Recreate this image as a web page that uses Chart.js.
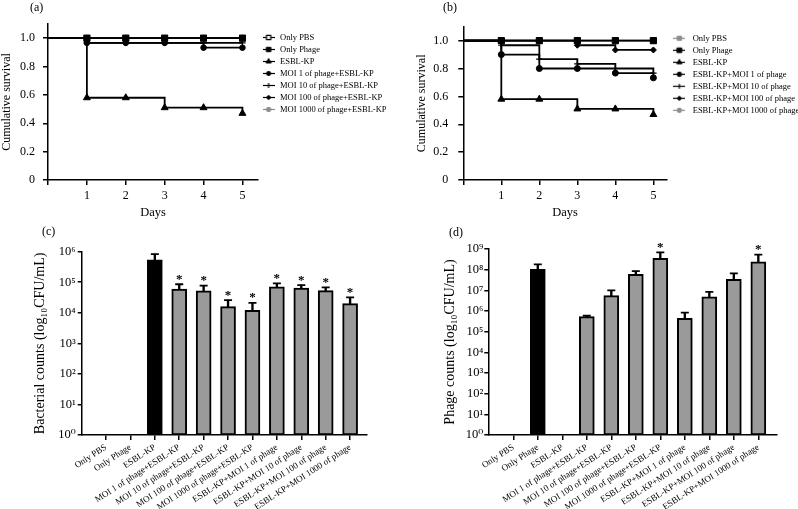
<!DOCTYPE html>
<html>
<head>
<meta charset="utf-8">
<title>Survival and bacterial / phage counts</title>
<script src="https://cdn.jsdelivr.net/npm/chart.js@4.4.1/dist/chart.umd.min.js"></script>
<style>
  html, body { margin:0; padding:0; background:#ffffff; }
  #fig { position:relative; width:798px; height:509px; overflow:hidden; background:#ffffff; }
  #fig canvas { position:absolute; }
  .plab { position:absolute; font-family:"Liberation Serif","Times New Roman",serif; font-size:12px; line-height:1; color:#000; }
</style>
</head>
<body>
<div id="fig">
  <canvas id="cA" width="400" height="235" style="left:0px;top:0px"></canvas>
  <canvas id="cB" width="398" height="235" style="left:400px;top:0px"></canvas>
  <canvas id="cC" width="400" height="269" style="left:0px;top:240px"></canvas>
  <canvas id="cD" width="398" height="269" style="left:400px;top:240px"></canvas>
  <div class="plab" style="left:30px;top:1px">(a)</div>
  <div class="plab" style="left:443px;top:1px">(b)</div>
  <div class="plab" style="left:42px;top:225px">(c)</div>
  <div class="plab" style="left:449px;top:226px">(d)</div>
</div>
<script>
const SERIF = '"Liberation Serif","Times New Roman","DejaVu Serif",serif';
Chart.defaults.font.family = SERIF;
Chart.defaults.color = '#000';

// ---------------- survival data ----------------
const days = [0, 1, 2, 3, 4, 5];
const dayTickValues = [0, 1, 2, 3, 4, 5];
const survivalTickValues = [0, 0.2, 0.4, 0.6, 0.8, 1.0];

const groupsA = ['Only PBS', 'Only Phage', 'ESBL-KP', 'MOI 1 of phage+ESBL-KP',
  'MOI 10 of phage+ESBL-KP', 'MOI 100 of phage+ESBL-KP', 'MOI 1000 of phage+ESBL-KP'];
const survA_PBS     = [1, 1, 1, 1, 1, 1];
const survA_Phage   = [1, 1, 1, 1, 1, 1];
const survA_ESBL    = [1, 0.58, 0.58, 0.51, 0.51, 0.47];
const survA_MOI1    = [1, 0.967, 0.967, 0.967, 0.933, 0.933];
const survA_MOI10   = [1, 0.967, 0.967, 0.967, 0.967, 0.967];
const survA_MOI100  = [1, 1, 1, 1, 1, 1];
const survA_MOI1000 = [1, 1, 1, 1, 1, 1];

const groupsB = ['Only PBS', 'Only Phage', 'ESBL-KP', 'ESBL-KP+MOI 1 of phage',
  'ESBL-KP+MOI 10 of phage', 'ESBL-KP+MOI 100 of phage', 'ESBL-KP+MOI 1000 of phage'];
const survB_PBS     = [1, 1, 1, 1, 1, 1];
const survB_Phage   = [1, 1, 1, 1, 1, 1];
const survB_ESBL    = [1, 0.58, 0.58, 0.51, 0.51, 0.47];
const survB_MOI1    = [1, 0.9, 0.8, 0.8, 0.767, 0.733];
const survB_MOI10   = [1, 0.967, 0.867, 0.833, 0.8, 0.767];
const survB_MOI100  = [1, 1, 1, 0.967, 0.933, 0.933];
const survB_MOI1000 = [1, 1, 1, 1, 1, 1];

// ---------------- count data ----------------
const barCategories = ['Only PBS', 'Only Phage', 'ESBL-KP', 'MOI 1 of phage+ESBL-KP',
  'MOI 10 of phage+ESBL-KP', 'MOI 100 of phage+ESBL-KP', 'MOI 1000 of phage+ESBL-KP',
  'ESBL-KP+MOI 1 of phage', 'ESBL-KP+MOI 10 of phage', 'ESBL-KP+MOI 100 of phage',
  'ESBL-KP+MOI 1000 of phage'];
const bacteriaMean  = [null, null, 5.4e5, 6.0e4, 5.2e4, 1.6e4, 1.2e4, 7.1e4, 6.4e4, 5.3e4, 2.0e4];
const bacteriaUpper = [null, null, 8.3e5, 8.6e4, 7.7e4, 2.6e4, 2.1e4, 9.2e4, 8.1e4, 6.8e4, 3.2e4];
const bacteriaSig   = [false, false, false, true, true, true, true, true, true, true, true];
const phageMean  = [null, 1.05e8, null, 5.3e5, 5.5e6, 5.9e7, 3.5e8, 4.4e5, 4.9e6, 3.4e7, 2.4e8];
const phageUpper = [null, 1.8e8, null, 5.9e5, 1.0e7, 8.5e7, 6.9e8, 8.3e5, 8.5e6, 6.6e7, 5.3e8];
const phageSig   = [false, false, false, false, false, false, true, false, false, false, true];
const bacteriaTicks = [1, 1e1, 1e2, 1e3, 1e4, 1e5, 1e6];
const phageTicks = [1, 1e1, 1e2, 1e3, 1e4, 1e5, 1e6, 1e7, 1e8, 1e9];

// ---------------- styles ----------------
const GREY = '#8c8c8c';
const stylesA = [
  {ps: 'rect', r: 4, fill: '#ffffff', line: '#000', bw: 1.2},
  {ps: 'rect', r: 4.2, fill: '#000', line: '#000', bw: 1},
  {ps: 'triangle', r: 4, fill: '#000', line: '#000', bw: 1},
  {ps: 'circle', r: 2.8, fill: '#000', line: '#000', bw: 1},
  {ps: 'cross', r: 3.2, fill: '#000', line: '#000', bw: 1.2},
  {ps: 'rectRot', r: 3, fill: '#000', line: '#000', bw: 1},
  {ps: 'circle', r: 3, fill: GREY, line: GREY, bw: 1}
];
const stylesB = [
  {ps: 'rect', r: 4, fill: GREY, line: GREY, bw: 1},
  {ps: 'rect', r: 4.4, fill: '#000', line: '#000', bw: 1},
  {ps: 'triangle', r: 4, fill: '#000', line: '#000', bw: 1},
  {ps: 'circle', r: 3, fill: '#000', line: '#000', bw: 1},
  {ps: 'cross', r: 3.2, fill: '#000', line: '#000', bw: 1.2},
  {ps: 'rectRot', r: 3, fill: '#000', line: '#000', bw: 1},
  {ps: 'circle', r: 3, fill: GREY, line: GREY, bw: 1}
];
const drawOrder = [6, 0, 1, 2, 3, 4, 5];

function legendIcon(st, w, h) {
  const c = document.createElement('canvas');
  c.width = w; c.height = h;
  const g = c.getContext('2d');
  g.strokeStyle = st.line; g.lineWidth = 1.2;
  g.beginPath(); g.moveTo(0, h / 2); g.lineTo(w, h / 2); g.stroke();
  g.fillStyle = st.fill; g.strokeStyle = st.line; g.lineWidth = st.bw;
  Chart.helpers.drawPoint(g, {pointStyle: st.ps, radius: st.r * 0.75, borderWidth: st.bw, rotation: 0}, w / 2, h / 2);
  return c;
}

function legendWidthPlugin(w) {
  return {
    id: 'legendWidth',
    beforeLayout(chart) {
      const lg = chart.legend;
      if (lg && !lg._fixedW) {
        const f = lg.fit;
        lg.fit = function () { f.call(this); this.width = w; };
        lg._fixedW = true;
      }
    }
  };
}

const axisGrid = {display: true, drawOnChartArea: false, drawTicks: true, tickLength: 5, color: '#000', lineWidth: 1.5};
const axisBorder = {display: true, color: '#000', width: 1.5};

function makeSurvival(id, groups, series, styles, geo) {
  const datasets = series.map((vals, k) => {
    const st = styles[k];
    return {
      label: groups[k],
      data: days.map((d, i) => ({x: d, y: vals[i]})),
      stepped: true,
      borderColor: st.line,
      borderWidth: 1.8,
      fill: false,
      pointStyle: st.ps,
      pointRadius: days.map(d => (d === 0 ? 0 : st.r)),
      pointHoverRadius: 0,
      pointBackgroundColor: st.fill,
      pointBorderColor: st.line,
      pointBorderWidth: st.bw,
      order: drawOrder[k],
      clip: false
    };
  });
  const icons = styles.map(st => legendIcon(st, 12, 9));
  return new Chart(document.getElementById(id), {
    type: 'line',
    data: {datasets},
    options: {
      responsive: false, animation: false, events: [],
      layout: {padding: {top: geo.top, left: 0, right: 0, bottom: 0}},
      plugins: {
        tooltip: {enabled: false},
        legend: {
          position: 'right', align: 'start',
          title: {display: true, text: '', font: {size: 1, lineHeight: 1}, padding: {top: 0, bottom: geo.legTitle}},
          labels: {
            usePointStyle: true, pointStyleWidth: geo.boxW, padding: 3.5,
            color: '#000', font: {family: SERIF, size: 8.5},
            generateLabels: (chart) => chart.data.datasets.map((ds, i) => ({
              text: ds.label, pointStyle: icons[i], fillStyle: '#000', strokeStyle: '#000',
              lineWidth: 0, hidden: false, datasetIndex: i, fontColor: '#000'
            }))
          }
        }
      },
      scales: {
        x: {
          type: 'linear', min: 0, max: geo.xmax,
          afterBuildTicks: s => { s.ticks = dayTickValues.map(v => ({value: v})); },
          afterFit: s => { s.height = geo.xH; },
          ticks: {callback: v => (v === 0 ? '' : String(v)), color: '#000', font: {family: SERIF, size: 12}, padding: 3.5, maxRotation: 0, autoSkip: false},
          grid: axisGrid, border: axisBorder,
          title: {display: true, text: 'Days', color: '#000', font: {family: SERIF, size: 12.5}, padding: {top: 0, bottom: geo.daysPad}}
        },
        y: {
          type: 'linear', min: 0, max: 1.1,
          afterBuildTicks: s => { s.ticks = survivalTickValues.map(v => ({value: v})); },
          afterFit: s => { s.width = geo.yW; },
          ticks: {callback: v => (v === 0 ? '0' : v.toFixed(1)), color: '#000', font: {family: SERIF, size: 12}, padding: geo.yTickPad},
          grid: axisGrid, border: axisBorder,
          title: {display: true, text: 'Cumulative survival', color: '#000', font: {family: SERIF, size: 12}, padding: {top: geo.yTitlePad, bottom: 0}}
        }
      }
    },
    plugins: [legendWidthPlugin(geo.legW)]
  });
}

const SUP = {'0': '⁰', '1': '¹', '2': '²', '3': '³', '4': '⁴', '5': '⁵', '6': '⁶', '7': '⁷', '8': '⁸', '9': '⁹'};
const decadeLabel = v => '10' + String(Math.round(Math.log10(v))).split('').map(c => SUP[c]).join('');

function asteriskPlugin(uppers, signif) {
  return {
    id: 'asterisks',
    afterDatasetsDraw(chart) {
      const {ctx} = chart; const x = chart.scales.x; const y = chart.scales.y;
      ctx.save();
      ctx.fillStyle = '#000'; ctx.font = 'bold 13px ' + SERIF;
      ctx.textAlign = 'center'; ctx.textBaseline = 'alphabetic';
      signif.forEach((s, i) => {
        if (!s) return;
        ctx.fillText('*', x.getPixelForValue(i), y.getPixelForValue(uppers[i]) - 1.5);
      });
      ctx.restore();
    }
  };
}

function makeBars(id, means, uppers, signif, darkIndex, yTicks, yTitle, geo) {
  const barData = [], barColors = [], stemData = [], capData = [];
  barCategories.forEach((c, i) => {
    if (means[i] == null) return;
    barData.push({x: i, y: means[i]});
    barColors.push(i === darkIndex ? '#000000' : '#9a9a9a');
    stemData.push({x: i, y: [means[i], uppers[i]]});
    capData.push({x: i, y: uppers[i]});
  });
  return new Chart(document.getElementById(id), {
    type: 'bar',
    data: {
      datasets: [
        {type: 'bar', data: barData, backgroundColor: barColors, borderColor: '#000', borderWidth: 2,
          borderSkipped: false, barThickness: 15, grouped: false, order: 1},
        {type: 'bar', data: stemData, backgroundColor: '#000', borderWidth: 0,
          barThickness: 1.7, grouped: false, order: 2},
        {type: 'line', data: capData, showLine: false, pointStyle: 'line', pointRadius: 4,
          pointHoverRadius: 0, pointBorderColor: '#000', pointBorderWidth: 1.8, order: 0}
      ]
    },
    options: {
      responsive: false, animation: false, events: [],
      layout: {padding: {top: geo.top, left: 0, right: geo.right, bottom: 0}},
      plugins: {legend: {display: false}, tooltip: {enabled: false}},
      scales: {
        x: {
          type: 'linear', min: geo.xmin, max: geo.xmax, offset: false,
          afterBuildTicks: s => { s.ticks = barCategories.map((c, i) => ({value: i})); },
          afterFit: s => { s.height = geo.xH; },
          ticks: {callback: v => barCategories[Math.round(v)], autoSkip: false, minRotation: 33, maxRotation: 33,
            color: '#000', font: {family: SERIF, size: 9}, padding: 2},
          grid: {display: true, offset: false, drawOnChartArea: false, drawTicks: true, tickLength: 5, color: '#000', lineWidth: 1.5},
          border: axisBorder
        },
        y: {
          type: 'logarithmic', min: yTicks[0], max: yTicks[yTicks.length - 1],
          afterBuildTicks: s => { s.ticks = yTicks.map(v => ({value: v})); },
          afterFit: s => { s.width = geo.yW; },
          ticks: {callback: v => decadeLabel(v), color: '#000', font: {family: SERIF, size: 12.5}, padding: geo.yTickPad},
          grid: {display: true, drawOnChartArea: false, drawTicks: true, tickLength: 4, color: '#000', lineWidth: 1.5},
          border: axisBorder,
          title: {display: true, text: yTitle, color: '#000', font: {family: SERIF, size: 14}, padding: {top: geo.yTitlePad, bottom: 0}}
        }
      }
    },
    plugins: [asteriskPlugin(uppers, signif)]
  });
}

makeSurvival('cA', groupsA,
  [survA_PBS, survA_Phage, survA_ESBL, survA_MOI1, survA_MOI10, survA_MOI100, survA_MOI1000], stylesA,
  {top: 24, xmax: 5.4, xH: 55, daysPad: 14.5, yW: 48, yTickPad: 8, yTitlePad: 0, legW: 142, legTitle: 4.75, boxW: 14.25});

makeSurvival('cB', groupsB,
  [survB_PBS, survB_Phage, survB_ESBL, survB_MOI1, survB_MOI10, survB_MOI100, survB_MOI1000], stylesB,
  {top: 26.7, xmax: 5.35, xH: 55, daysPad: 14.7, yW: 63.3, yTickPad: 10, yTitlePad: 14.5, legW: 131.3, legTitle: 2.85, boxW: 18.25});

makeBars('cC', bacteriaMean, bacteriaUpper, bacteriaSig, 2, bacteriaTicks, 'Bacterial counts (log₁₀CFU/mL)',
  {top: 11.7, right: 33.3, xmin: -0.996, xmax: 10.68, xH: 74, yW: 81.7, yTickPad: 2, yTitlePad: 31.5});

makeBars('cD', phageMean, phageUpper, phageSig, 1, phageTicks, 'Phage counts (log₁₀CFU/mL)',
  {top: 9, right: 21.3, xmin: -1.02, xmax: 10.75, xH: 74, yW: 88.3, yTickPad: 1, yTitlePad: 41.5});
</script>
</body>
</html>
